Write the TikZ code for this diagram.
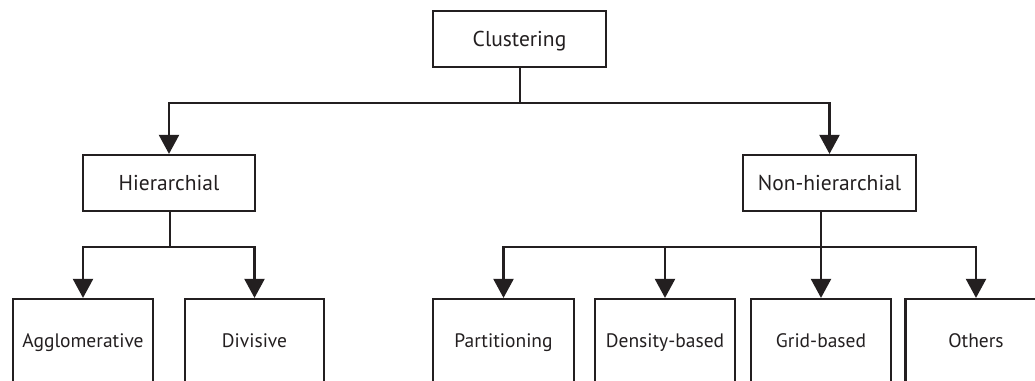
\documentclass[tikz,border=0pt]{standalone}
\usepackage{fontspec}
\setmainfont{PT Sans}
\usetikzlibrary{arrows.meta}
\definecolor{ink}{RGB}{35,31,32}
\begin{document}
\begin{tikzpicture}[x=1pt,y=-1pt,
  box/.style={draw=ink,line width=2.2pt,fill=white,inner sep=0pt,text=ink},
  topbox/.style={box,minimum width=173pt,minimum height=56pt,font=\fontsize{21.5}{24}\selectfont,text height=16pt,text depth=1pt},
  leafbox/.style={box,minimum width=141pt,minimum height=86pt,font=\fontsize{19.5}{22}\selectfont,text height=14pt,text depth=4pt},
  link/.style={draw=ink,line width=2.2pt},
  arr/.style={link,-{Triangle[length=19pt,width=20pt]}}]
\useasboundingbox (0,0) rectangle (1035,380);
\clip (0,0) rectangle (1035,380);
\fill[white] (0,0) rectangle (1035,380);
% nodes
\node[topbox] (clus) at (519.5,39) {Clustering};
\node[topbox,minimum width=172pt] (hier) at (169,183) {Hierarchial};
\node[topbox] (nonh) at (829.5,183) {Non-hierarchial};
\node[leafbox,minimum width=140pt] (agg) at (83,342) {Agglomerative};
\node[leafbox,minimum width=139pt] (div) at (254.5,342) {Divisive};
\node[leafbox] (part) at (503.5,342) {Partitioning};
\node[leafbox,minimum width=140pt] (dens) at (665,342) {Density-based};
\node[leafbox,minimum width=140pt] (grid) at (821,342) {Grid-based};
\node[leafbox] (oth) at (976,342) {Others};
% junctions
\coordinate (j1) at (520,103);
\coordinate (j2) at (170,247);
\coordinate (j3) at (821,247);
% connectors
\draw[link] (clus.south -| j1) -- (j1);
\draw[arr] (j1) -| (hier.north);
\draw[arr] (j1) -| (nonh.north);
\draw[link] (hier.south -| j2) -- (j2);
\draw[arr] (j2) -| (agg.north);
\draw[arr] (j2) -| (div.north);
\draw[link] (nonh.south -| j3) -- (j3);
\draw[arr] (j3) -| (part.north);
\draw[arr] (j3) -| (dens.north);
\draw[arr] (j3) -- (grid.north);
\draw[arr] (j3) -| (oth.north);
\end{tikzpicture}
\end{document}
